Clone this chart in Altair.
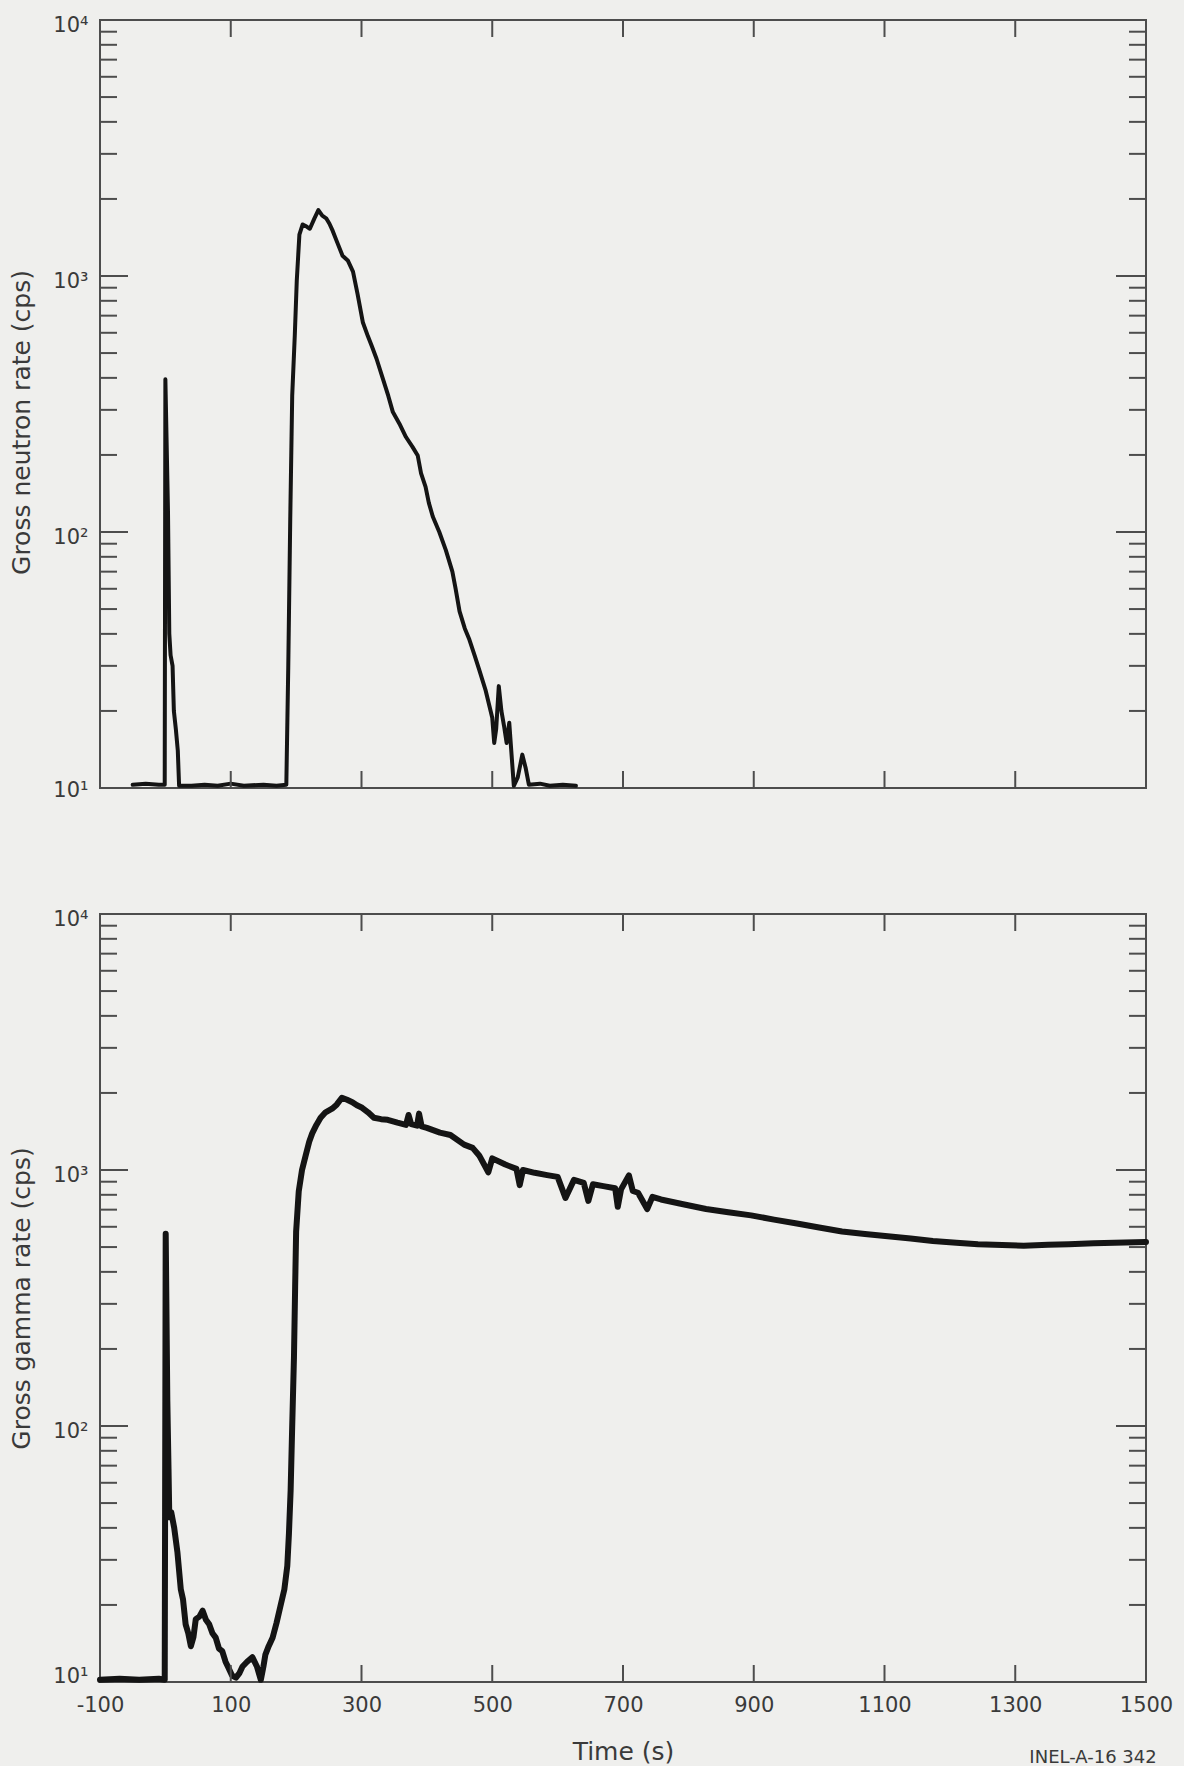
import altair as alt
import pandas as pd

# ---------------- data ----------------
neutron_t = [-50, -30, -10, -1, 0, 4, 6, 8, 11, 13,
             16, 19, 21, 40, 60, 80, 100, 120, 150, 170,
             185, 188, 191, 194, 198, 201, 205, 210, 216, 221,
             228, 234, 240, 246, 251, 256, 263, 271, 279, 287,
             294, 302, 310, 316, 323, 333, 341, 348, 358, 368,
             378, 386, 391, 398, 403, 409, 419, 429, 439, 444,
             450, 458, 465, 473, 480, 490, 500, 503, 506, 510,
             514, 518, 522, 526, 530, 533, 539, 546, 551, 556,
             573, 588, 608, 628]
neutron_cps = [10.3, 10.4, 10.3, 10.3, 395, 120, 40, 33, 30, 20,
               17, 14, 10.2, 10.2, 10.3, 10.2, 10.4, 10.2, 10.3, 10.2,
               10.3, 30, 112, 340, 590, 960, 1450, 1590, 1560, 1530,
               1680, 1810, 1720, 1680, 1600, 1500, 1350, 1200, 1150, 1040,
               850, 660, 580, 530, 475, 395, 340, 294, 265, 235,
               215, 199, 170, 150, 130, 115, 100, 85, 70, 60,
               49, 42, 38, 33, 29, 24, 18.8, 15, 17, 25,
               20, 17.5, 15, 18, 13, 10.2, 11, 13.5, 12, 10.3,
               10.4, 10.2, 10.3, 10.2]

gamma_t = [-100, -70, -40, -10, -1, 0.5, 3, 4.8, 6, 9,
           13.5, 18.5, 23.6, 27, 31, 35, 39, 43, 46.5, 52,
           57, 62, 67, 72, 77, 82, 87, 92, 97, 102,
           108, 113, 118, 125, 133, 140, 146, 150, 153, 158,
           164, 170, 176, 182, 186.5, 189, 191.6, 194, 196.7, 198.5,
           200, 204, 209, 214.5, 220, 224.6, 231, 237.4, 245, 255,
           262, 270, 278, 286, 293, 301, 310, 319, 330, 340,
           355, 368, 372, 376, 385, 388, 392, 400, 420, 436,
           457, 470, 480, 494, 500, 520, 537, 542, 547, 565,
           584, 600, 612, 625, 640, 647, 654, 670, 688, 692,
           697, 709, 715, 723, 737, 745, 758, 792, 827, 861,
           896, 931, 966, 1000, 1035, 1070, 1105, 1140, 1174, 1210,
           1243, 1280, 1313, 1350, 1382, 1420, 1452, 1500]
gamma_cps = [10.2, 10.3, 10.2, 10.3, 10.2, 564, 125, 68, 44, 46,
             40, 32, 23, 21, 16.8, 15.5, 13.8, 15, 17.6, 18,
             19, 17.5, 16.8, 15.5, 14.9, 13.5, 13.2, 12, 11.3, 10.6,
             10.4, 10.8, 11.5, 12, 12.5, 11.5, 10.2, 11.5, 12.8, 13.8,
             14.9, 17, 19.8, 23, 28.4, 38, 56, 100, 186, 350,
             574, 825, 1000, 1137, 1290, 1390, 1500, 1600, 1680, 1735,
             1800, 1916, 1880, 1840, 1790, 1750, 1680, 1600, 1580, 1570,
             1530, 1500, 1640, 1510, 1490, 1660, 1480, 1460, 1400, 1370,
             1256, 1220, 1140, 980, 1110, 1050, 1010, 873, 1000, 975,
             955, 940, 778, 915, 890, 757, 880, 865, 849, 718,
             840, 953, 828, 815, 704, 785, 767, 735, 704, 684,
             665, 640, 618, 596, 575, 562, 551, 540, 528, 520,
             513, 509, 506, 510, 513, 517, 520, 523]

x_label_values = [-100, 100, 300, 500, 700, 900, 1100, 1300, 1500]
x_tick_values = [100, 300, 500, 700, 900, 1100, 1300]
y_label_values = [10, 100, 1000, 10000]
y_major_ticks = [100, 1000]
y_minor_ticks = [20, 30, 40, 50, 60, 70, 80, 90,
                 200, 300, 400, 500, 600, 700, 800, 900,
                 2000, 3000, 4000, 5000, 6000, 7000, 8000, 9000]

# ---------------- layout / style ----------------
W, H = 1046, 768
INK = "#141414"
AXC = "#4d4d4d"
TXT = "#3a3a3a"
FONT = "DejaVu Sans"

xscale = alt.Scale(domain=[-100, 1500], nice=False, zero=False)
yscale = alt.Scale(type="log", domain=[10, 10000], nice=False)

sup_expr = ("'10' + (datum.value == 10 ? '\u00b9' : datum.value == 100 ? '\u00b2' : "
            "datum.value == 1000 ? '\u00b3' : '\u2074')")


def panel(t, v, ytitle, show_x, width_px, low_offset, title_y=None):
    df = pd.DataFrame({"t": t, "v": v})
    if show_x:
        xaxis = alt.Axis(values=x_label_values, labelExpr="'' + datum.value",
                         ticks=False, domain=False, grid=False, title="Time (s)",
                         labelPadding=12, titlePadding=24, labelFlush=False)
    else:
        xaxis = None
    ykw = dict(values=y_label_values, labelExpr=sup_expr, ticks=False,
               domain=False, grid=False, title=ytitle, labelPadding=12,
               titlePadding=18,
               labelOffset={"condition": {"test": "datum.value == 10", "value": low_offset},
                            "value": 5})
    if title_y is not None:
        ykw["titleY"] = title_y
    yaxis = alt.Axis(**ykw)
    ye = alt.Y("v:Q", scale=yscale, axis=yaxis)
    xe = alt.X("t:Q", scale=xscale, axis=xaxis)
    line = alt.Chart(df).mark_line(color=INK, strokeWidth=width_px,
                                   strokeJoin="round", strokeCap="round").encode(x=xe, y=ye)
    rs = dict(color=AXC, strokeWidth=2)
    ymin = pd.DataFrame({"v": y_minor_ticks})
    ymaj = pd.DataFrame({"v": y_major_ticks})
    xt = pd.DataFrame({"t": x_tick_values})
    layers = [
        line,
        alt.Chart(ymin).mark_rule(**rs).encode(y=ye, x=alt.value(0), x2=alt.value(17)),
        alt.Chart(ymin).mark_rule(**rs).encode(y=ye, x=alt.value(W - 17), x2=alt.value(W)),
        alt.Chart(ymaj).mark_rule(**rs).encode(y=ye, x=alt.value(0), x2=alt.value(28)),
        alt.Chart(ymaj).mark_rule(**rs).encode(y=ye, x=alt.value(W - 30), x2=alt.value(W)),
        alt.Chart(xt).mark_rule(**rs).encode(x=xe, y=alt.value(0), y2=alt.value(17)),
        alt.Chart(xt).mark_rule(**rs).encode(x=xe, y=alt.value(H - 17), y2=alt.value(H)),
    ]
    return alt.layer(*layers).properties(width=W, height=H)


top = panel(neutron_t, neutron_cps, "Gross neutron rate (cps)", False, 4, 2, title_y=402)
bottom = panel(gamma_t, gamma_cps, "Gross gamma rate (cps)", True, 6, -6).properties(
    title=alt.TitleParams("INEL-A-16 342", orient="bottom", anchor="end", offset=-15,
                          dx=-16, fontSize=18, font=FONT, fontWeight="normal", color=TXT)
)

chart = alt.vconcat(top, bottom, spacing=106).properties(
    background="#efefed",
    padding={"left": 8, "top": 13, "right": 10, "bottom": 0},
).configure_view(stroke=AXC, strokeWidth=2).configure_axis(
    labelFont=FONT, labelFontSize=21, labelColor=TXT,
    titleFont=FONT, titleFontSize=25, titleFontWeight="normal", titleColor=TXT,
)

chart.save("out.html", embed_options={"renderer": "svg", "actions": False})
